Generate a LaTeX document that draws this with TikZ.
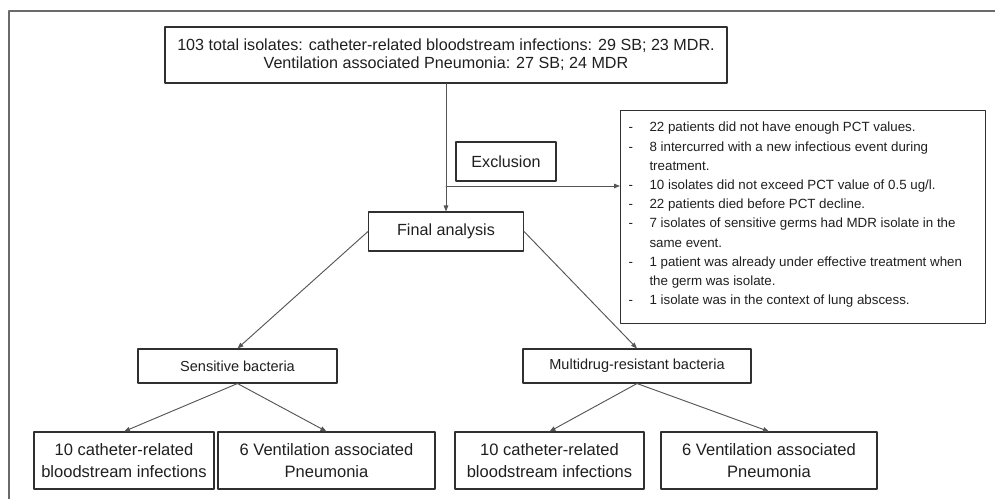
\documentclass[tikz,border=0pt]{standalone}
\usepackage{fontspec}
\setmainfont{Liberation Sans}
\usetikzlibrary{arrows.meta}
\definecolor{framegray}{HTML}{6A6A6A}
\definecolor{linegray}{HTML}{555555}
\definecolor{boxgray}{HTML}{303030}
\newcommand{\bigtxt}{\fontsize{12.1}{13.5}\selectfont}
\newcommand{\midtxt}{\fontsize{10.9}{13}\selectfont}
\newcommand{\lowtxt}{\fontsize{12.4}{16.5}\selectfont}
\newcommand{\listtxt}{\fontsize{10}{14.4}\selectfont}

\begin{document}
\begin{tikzpicture}[x=0.75pt,y=-0.75pt, line join=round, line cap=round,
	>={Triangle[length=4.5pt,width=3.4pt]},
	box/.style={draw=boxgray, line width=0.8pt, inner sep=0pt, align=center, text=black!88},
	conn/.style={draw=linegray, line width=0.7pt}]
		\useasboundingbox (0,0) rectangle (995,499);
		% frame of the figure
		\draw[framegray, line width=1.5pt] (9,499) -- (9,11) -- (995,11);
		% boxes
		\node[box, font=\bigtxt, minimum width=421.5pt, minimum height=42pt] (total) at (446,55)
			{103 total isolates: catheter-related bloodstream infections: 29 SB; 23 MDR.\\Ventilation associated Pneumonia: 27 SB; 24 MDR};
		\node[box, font=\bigtxt, minimum width=116.25pt, minimum height=29.25pt] (final) at (446,231.5) {Final analysis};
		\node[box, font=\bigtxt, minimum width=75pt, minimum height=29.25pt] (excl) at (506,161.5) {Exclusion};
		\node[box, anchor=north west, inner sep=6pt, align=left] (reasons) at (620,110)
			{\begin{minipage}[c][147.75pt][t]{261.75pt}\listtxt
			\begin{tabular}[t]{@{}p{15.75pt}@{}l@{}}
			- & 22 patients did not have enough PCT values.\\
			- & 8 intercurred with a new infectious event during\\
			  & treatment.\\
			- & 10 isolates did not exceed PCT value of 0.5 ug/l.\\
			- & 22 patients died before PCT decline.\\
			- & 7 isolates of sensitive germs had MDR isolate in the\\
			  & same event.\\
			- & 1 patient was already under effective treatment when\\
			  & the germ was isolate.\\
			- & 1 isolate was in the context of lung abscess.
			\end{tabular}\end{minipage}};
		\node[box, font=\midtxt, minimum width=149.25pt, minimum height=25.5pt] (sens) at (237.5,366) {Sensitive bacteria};
		\node[box, font=\midtxt, minimum width=171pt, minimum height=25.5pt] (mdr) at (637,366) {Multidrug-resistant bacteria};
		\node[box, font=\lowtxt, minimum width=135pt, minimum height=42.75pt] (sensCR) at (124,460.5) {10 catheter-related\\bloodstream infections};
		\node[box, font=\lowtxt, minimum width=162.75pt, minimum height=42.75pt] (sensVAP) at (326.5,460.5) {6 Ventilation associated\\Pneumonia};
		\node[box, font=\lowtxt, minimum width=141.75pt, minimum height=42.75pt] (mdrCR) at (549.5,460.5) {10 catheter-related\\bloodstream infections};
		\node[box, font=\lowtxt, minimum width=162pt, minimum height=42.75pt] (mdrVAP) at (769,460.5) {6 Ventilation associated\\Pneumonia};
		% connectors
		\coordinate (split) at (446,186);
		\draw[conn,->] (total) -- (final);
		\draw[conn,->] (split) -- (split -| reasons.west);
		\draw[conn,->] (final.west) -- (sens.north);
		\draw[conn,->] (final.east) -- (mdr.north);
		\draw[conn,->] (sens.south) -- (sensCR.north);
		\draw[conn,->] (sens.south) -- (sensVAP.north);
		\draw[conn,->] (mdr.south) -- (mdrCR.north);
		\draw[conn,->] (mdr.south) -- (mdrVAP.north);
	\end{tikzpicture}
\end{document}
